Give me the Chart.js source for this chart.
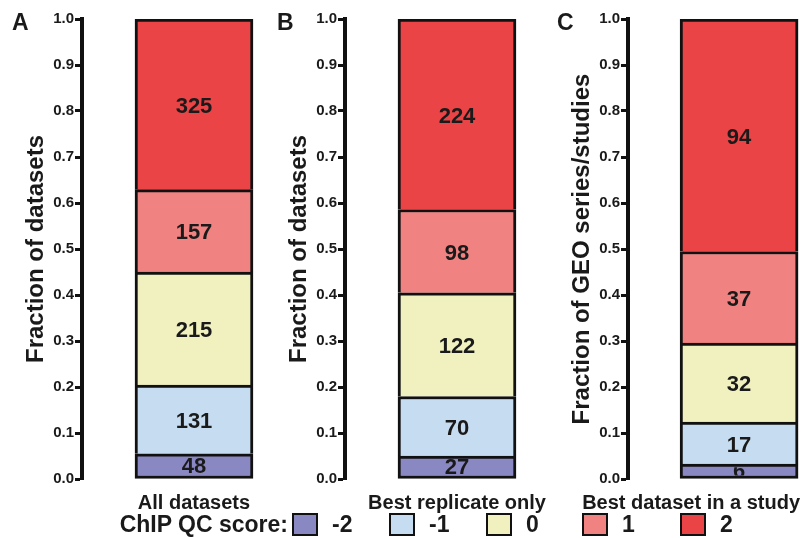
<!DOCTYPE html>
<html>
<head>
<meta charset="utf-8">
<script src="https://cdn.jsdelivr.net/npm/chart.js@4.4.1/dist/chart.umd.min.js"></script>
<style>
  html, body { margin: 0; padding: 0; background: #fff; }
  body { width: 808px; height: 538px; position: relative; overflow: hidden; font-family: "Liberation Sans", Arial, sans-serif; font-weight: bold; color: #1a1a1a; }
  canvas.panel { position: absolute; top: 0; }
  .letter { position: absolute; top: 11px; font-size: 23px; line-height: 23px; }
  #legend { position: absolute; left: 0; top: 513px; width: 808px; height: 24px; }
  #legend .title { position: absolute; right: 520px; top: 0; font-size: 23px; line-height: 23px; white-space: nowrap; }
  #legend .item { position: absolute; top: 0; display: flex; align-items: center; font-size: 23px; line-height: 23px; }
  #legend .box { width: 22px; height: 19px; border: 2px solid #111; margin-right: 14px; }
</style>
</head>
<body>
<canvas class="panel" id="chartA" width="306" height="538" style="left:0px"></canvas>
<canvas class="panel" id="chartB" width="306" height="538" style="left:263px"></canvas>
<canvas class="panel" id="chartC" width="306" height="538" style="left:546px"></canvas>
<div class="letter" style="left:12px">A</div>
<div class="letter" style="left:277px">B</div>
<div class="letter" style="left:557px">C</div>
<div id="legend"><span class="title">ChIP QC score:</span></div>

<script>
// counts per ChIP QC score, bottom (-2) to top (2)
const scores = ['-2', '-1', '0', '1', '2'];
const groups = ['All datasets', 'Best replicate only', 'Best dataset in a study'];
const allDatasets = [48, 131, 215, 157, 325];
const bestReplicate = [27, 70, 122, 98, 224];
const bestInStudy = [6, 17, 32, 37, 94];
const yTitles = ['Fraction of datasets', 'Fraction of datasets', 'Fraction of GEO series/studies'];

const scoreColors = ['#8a88c2', '#c6dcf0', '#f1f1c0', '#f08282', '#ea4446'];
const FONT = '"Liberation Sans", Arial, sans-serif';
const INK = '#1a1a1a';

// writes the count in the middle of each segment
const countLabels = {
  id: 'countLabels',
  afterDatasetsDraw(chart) {
    const ctx = chart.ctx;
    chart.data.datasets.forEach((ds, i) => {
      chart.getDatasetMeta(i).data.forEach((bar, j) => {
        const bw = ds.borderWidth;
        const top = Math.min(bar.y, bar.base) + bw;
        const bottom = Math.max(bar.y, bar.base) - (i === 0 ? bw : 0);
        ctx.save();
        ctx.beginPath();
        ctx.rect(bar.x - bar.width / 2, top, bar.width, bottom - top);
        ctx.clip();
        ctx.font = 'bold 22px ' + FONT;
        ctx.fillStyle = INK;
        ctx.textAlign = 'center';
        ctx.textBaseline = 'middle';
        ctx.fillText(String(ds.counts[j]), bar.x, (top + bottom) / 2 + 1);
        ctx.restore();
      });
    });
  }
};

function makePanel(id, group, counts, yTitle, labelShift) {
  const total = counts.reduce((a, b) => a + b, 0);
  new Chart(document.getElementById(id), {
    type: 'bar',
    data: {
      labels: [group],
      datasets: scores.map((s, i) => ({
        label: s,
        data: [counts[i] / total],
        counts: [counts[i]],
        backgroundColor: scoreColors[i],
        borderColor: '#111',
        borderWidth: 3,
        borderSkipped: i === 0 ? false : 'start',
        barThickness: 118
      }))
    },
    options: {
      responsive: false,
      animation: false,
      layout: { padding: { top: 19, left: 0, right: 0, bottom: 0 } },
      plugins: { legend: { display: false }, tooltip: { enabled: false } },
      scales: {
        x: {
          stacked: true,
          grid: { display: false },
          border: { display: false },
          ticks: {
            color: INK,
            font: { family: FONT, size: 20, weight: 'bold' },
            padding: 4,
            maxRotation: 0,
            labelOffset: labelShift
          },
          afterFit: (scale) => { scale.height = 59; }
        },
        y: {
          stacked: true,
          min: 0,
          max: 1,
          border: { display: true, color: '#111', width: 4 },
          grid: { display: true, drawOnChartArea: false, drawTicks: true, tickLength: 7, tickWidth: 3, tickColor: '#111' },
          ticks: {
            stepSize: 0.1,
            padding: 1,
            color: INK,
            font: { family: FONT, size: 15, weight: 'bold' },
            callback: (v) => Number(v).toFixed(1)
          },
          title: {
            display: true,
            text: yTitle,
            color: INK,
            font: { family: FONT, size: 24, weight: 'bold', lineHeight: 1.2 },
            padding: { top: 22, bottom: 0 }
          },
          afterFit: (scale) => { scale.width = 82; }
        }
      }
    },
    plugins: [countLabels]
  });
}

makePanel('chartA', groups[0], allDatasets, yTitles[0], 0);
makePanel('chartB', groups[1], bestReplicate, yTitles[1], 0);
makePanel('chartC', groups[2], bestInStudy, yTitles[2], -48);

// legend
const legend = document.getElementById('legend');
const legendX = [292, 389, 486, 582, 680];
scores.forEach((s, i) => {
  const item = document.createElement('span');
  item.className = 'item';
  item.style.left = legendX[i] + 'px';
  const box = document.createElement('span');
  box.className = 'box';
  box.style.background = scoreColors[i];
  const txt = document.createElement('span');
  txt.textContent = s;
  item.appendChild(box);
  item.appendChild(txt);
  legend.appendChild(item);
});
</script>
</body>
</html>
